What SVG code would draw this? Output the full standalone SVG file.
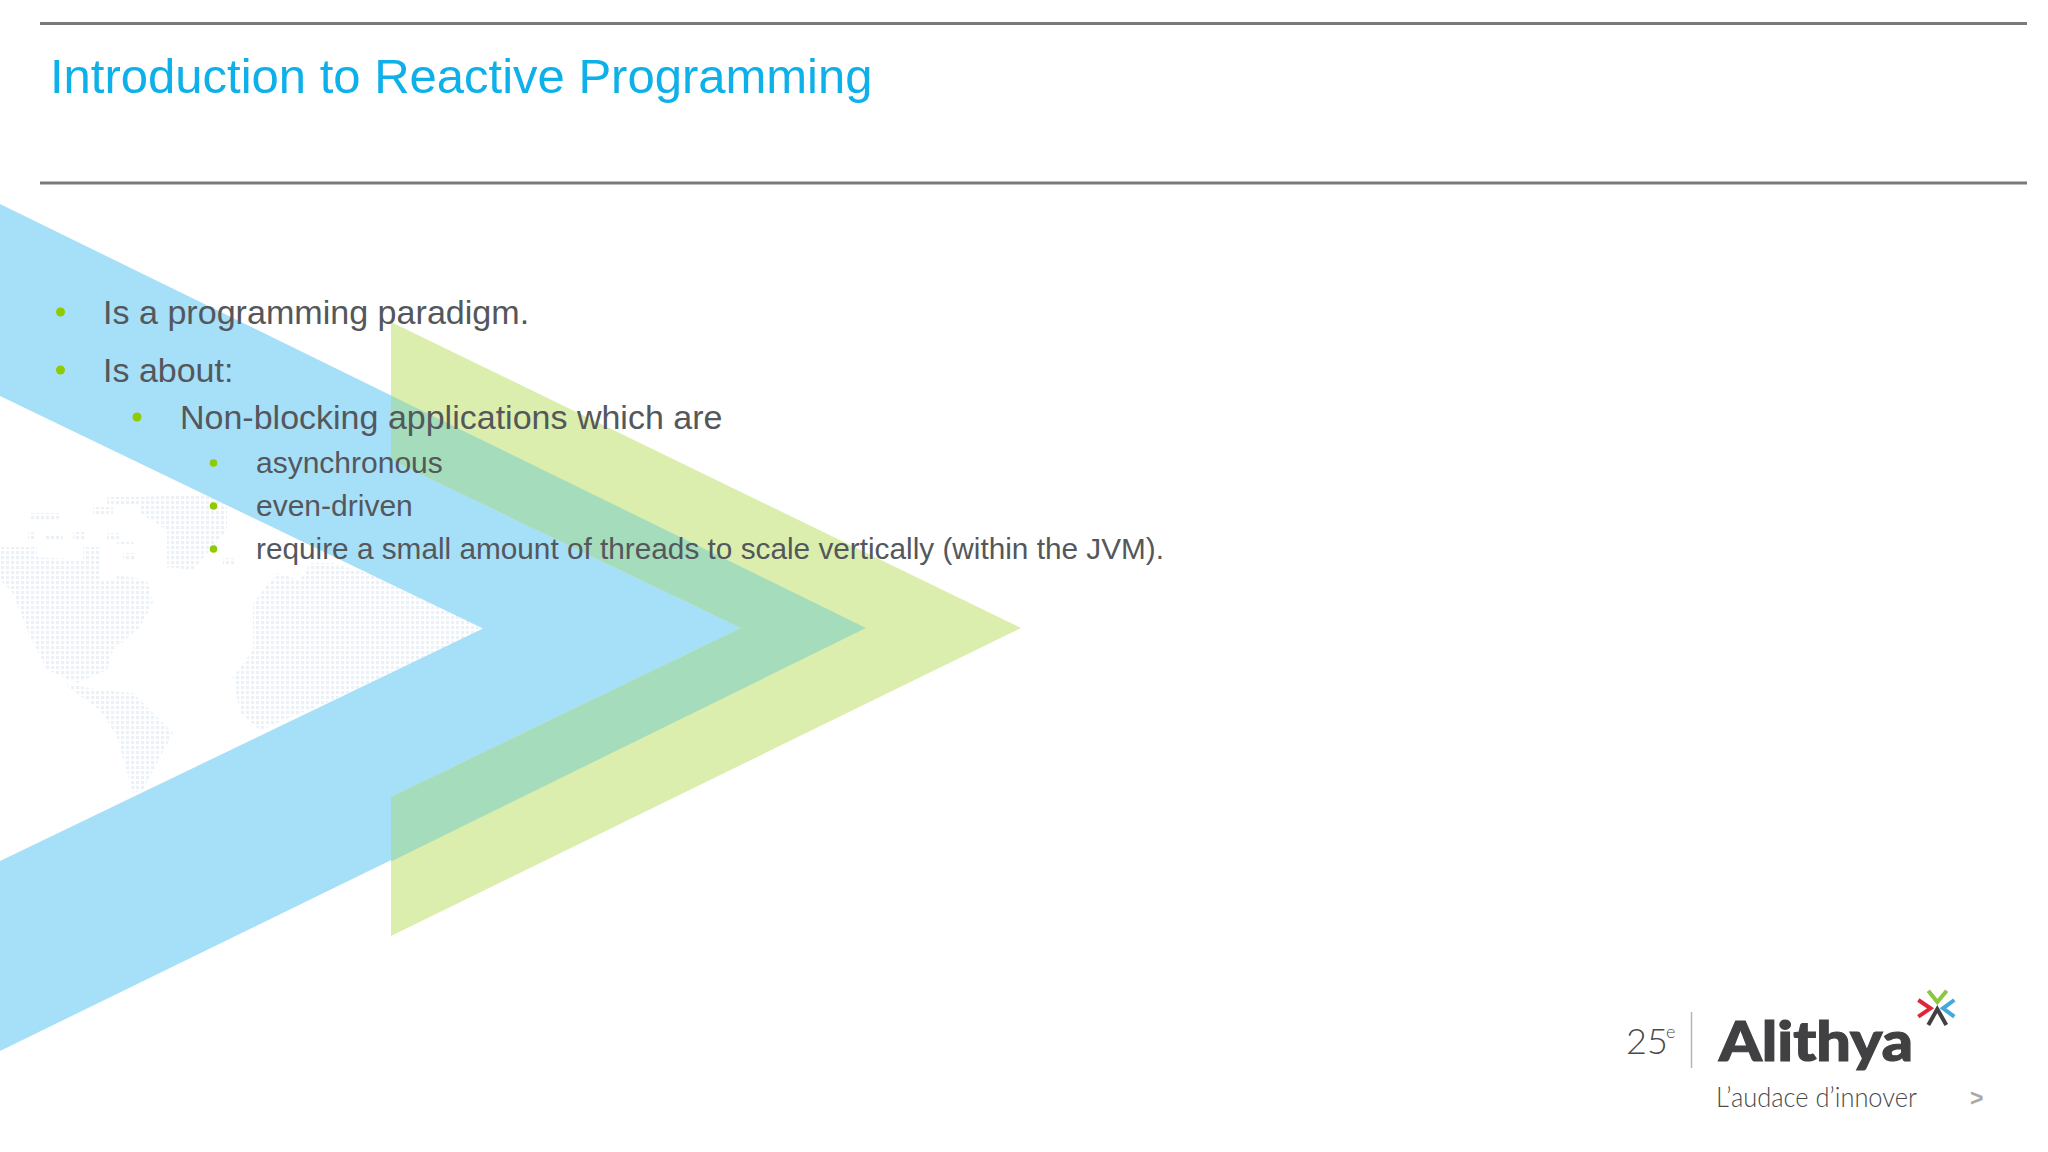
<svg xmlns="http://www.w3.org/2000/svg" width="2048" height="1152" viewBox="0 0 2048 1152">
<style>
text{font-family:"Liberation Sans",Arial,sans-serif;fill:#54575b}
.l1{font-size:34.100px}.l2{font-size:34px}.l3{font-size:30px}
.b{fill:#8fcb00}
.rule{stroke:#7a7a7a;stroke-width:3}
.logo{font-family:Lato,"Open Sans",sans-serif}
.star{fill:none;stroke-width:4}
</style>
<defs>
<pattern id="dots" width="5" height="5" patternUnits="userSpaceOnUse"><rect x="1" y="1" width="3.200" height="3.200" fill="#ecf1f8"/></pattern>
</defs>
<rect width="2048" height="1152" fill="#fff"/>
<g id="map" fill="url(#dots)">
<rect x="107" y="497" width="50" height="7"/>
<rect x="30" y="513" width="30" height="8"/>
<rect x="93" y="507" width="20" height="7"/>
<rect x="28" y="532" width="8" height="7"/>
<rect x="45" y="535" width="18" height="5"/>
<rect x="73" y="532" width="13" height="8"/>
<rect x="107" y="533" width="13" height="7"/>
<rect x="117" y="542" width="17" height="4"/>
<rect x="123" y="553" width="13" height="7"/>
<rect x="223" y="558" width="13" height="7"/>
<polygon points="0,547 37,547 37,557 83,560 83,547 100,547 100,580 117,580 117,575 147,580 153,603 140,627 113,650 107,670 77,683 47,670 27,630 13,593 0,580"/>
<polygon points="140,497 227,493 227,530 193,570 167,567 167,530 140,513"/>
<polygon points="63,683 100,690 133,693 173,733 157,763 143,790 133,793 117,737 100,710"/>
<polygon points="233,677 253,650 253,603 277,573 300,580 310,563 333,563 400,583 483,629 333,700 260,730 240,713"/>
</g>
<g id="chevrons">
<polygon id="blue-chevron" fill="#a6dff8" points="0,204 866,628 0,1051 0,861 483,628.500 0,396"/>
<polygon id="green-chevron" fill="#dceeae" points="391,322 1021,628 391,936 391,797 741,628 391,460"/>
<polygon id="overlap" fill="#a5dcbb" points="391,395.500 866,628 391,861.500 391,797 741,628 391,460"/>
</g>
<g id="header">
<line class="rule" x1="40" y1="23.500" x2="2027" y2="23.500"/>
<line class="rule" x1="40" y1="183" x2="2027" y2="183"/>
<text x="50" y="93" font-size="49" style="fill:#0db0e8">Introduction to Reactive Programming</text>
</g>
<g id="bullets">
<circle class="b" cx="60.500" cy="312" r="4.500"/><text class="l1" x="103" y="324">Is a programming paradigm.</text>
<circle class="b" cx="60.500" cy="370" r="4.500"/><text class="l2" x="103" y="382">Is about:</text>
<circle class="b" cx="137" cy="417" r="4.500"/><text class="l2" x="180" y="429">Non-blocking applications which are</text>
<circle class="b" cx="213.500" cy="463" r="3.800"/><text class="l3" x="256" y="473">asynchronous</text>
<circle class="b" cx="213.500" cy="506" r="3.800"/><text class="l3" x="256" y="516">even-driven</text>
<circle class="b" cx="213.500" cy="549" r="3.800"/><text class="l3" x="256" y="559" textLength="908" lengthAdjust="spacingAndGlyphs">require a small amount of threads to scale vertically (within the JVM).</text>
</g>
<g id="logo">
<text class="logo" x="1626" y="1054" font-size="36" font-weight="300" style="fill:#4a4a4c">25</text>
<text class="logo" x="1666" y="1038" font-size="18" font-weight="300" style="fill:#4a4a4c">e</text>
<line x1="1691.500" y1="1012" x2="1691.500" y2="1068" stroke="#b5b5b5" stroke-width="1.500"/>
<text class="logo" x="1719" y="1061" font-size="56" font-weight="900" textLength="194" lengthAdjust="spacingAndGlyphs" style="fill:#414042;stroke:#414042;stroke-width:1.200">Alithya</text>
<text class="logo" x="1716" y="1107" font-size="27" font-weight="300" textLength="201" lengthAdjust="spacingAndGlyphs" style="fill:#4a4a4c">L’audace d’innover</text>
<polyline class="star" stroke="#8dc63f" points="1928.300,990.700 1937.300,1002 1946.700,990.700"/>
<polyline class="star" stroke="#45a9dc" points="1954.300,1000 1943,1008.300 1954.300,1016.700"/>
<polyline class="star" stroke="#e0263a" points="1918.300,1000 1930.500,1008.300 1918.300,1016.700"/>
<polyline class="star" stroke="#414042" points="1928.300,1025 1937.300,1009 1946.300,1025"/>
</g>
<text x="1970" y="1106" font-size="23" font-weight="700" style="fill:#a9a9a9">&gt;</text>
</svg>
